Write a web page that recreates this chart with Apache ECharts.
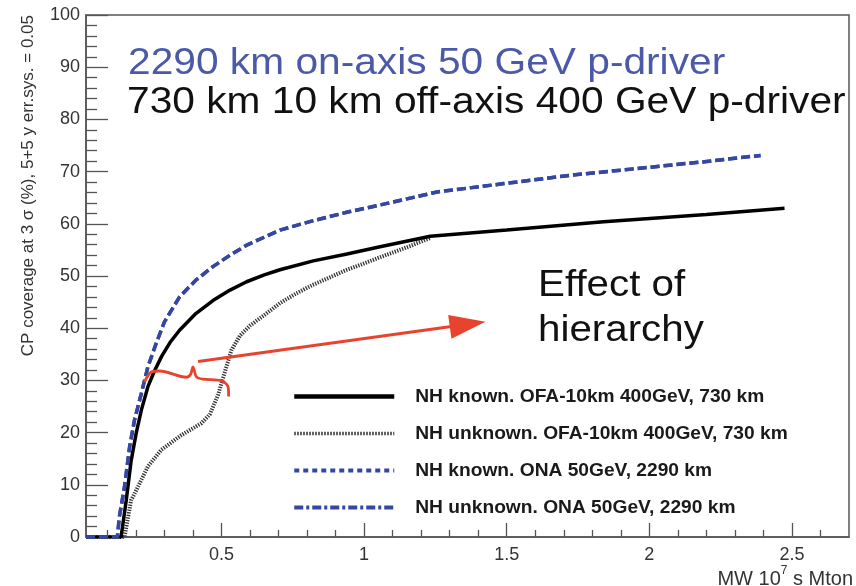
<!DOCTYPE html>
<html>
<head>
<meta charset="utf-8">
<script src="https://cdn.jsdelivr.net/npm/echarts@6/dist/echarts.min.js"></script>
<style>
html,body{margin:0;padding:0;background:#fff;}
#chart{width:856px;height:586px;}
</style>
</head>
<body>
<div id="chart"></div>
<script>
// ---- data (x: MW 10^7 s Mton, y: CP coverage %) ----
const seriesNames = [
  'NH known. OFA-10km 400GeV, 730 km',
  'NH unknown. OFA-10km 400GeV, 730 km',
  'NH known. ONA 50GeV, 2290 km',
  'NH unknown. ONA 50GeV, 2290 km'
];
const nhKnownOFA = [[0.025,0],[0.148,0],[0.166,7],[0.183,14.5],[0.201,19.9],[0.219,24.3],[0.242,28.8],[0.265,31.8],[0.29,34.6],[0.32,37.3],[0.353,39.6],[0.41,42.8],[0.47,45.3],[0.53,47.3],[0.588,48.9],[0.65,50.2],[0.705,51.2],[0.822,52.9],[0.94,54.2],[1.056,55.6],[1.232,57.6],[1.5,58.8],[1.84,60.4],[2.2,61.8],[2.474,63.0]];
const nhUnknownOFA = [[0.025,0],[0.16,0],[0.183,7],[0.207,9.6],[0.242,13.5],[0.289,16.7],[0.359,19.5],[0.43,21.8],[0.459,23.5],[0.488,27.2],[0.511,31.5],[0.535,35.8],[0.565,38.6],[0.6,40.5],[0.65,42.5],[0.705,44.8],[0.76,46.6],[0.82,48.3],[0.87,49.5],[0.94,51.2],[0.99,52.2],[1.056,53.6],[1.15,55.5],[1.232,57.3]];
const nhKnownONA = [[0.025,0],[0.135,0],[0.142,3.9],[0.16,9.6],[0.178,17.3],[0.195,22.4],[0.219,27.5],[0.242,32.6],[0.271,37.1],[0.30,41.2],[0.353,46],[0.41,49.2],[0.47,51.8],[0.53,54.0],[0.588,55.9],[0.705,58.8],[0.822,60.6],[0.939,62.2],[1.056,63.6],[1.256,66.1],[1.49,67.7],[1.724,69.3],[1.959,70.6],[2.193,71.9],[2.39,73.1]];
const nhUnknownONA = [[0.025,0],[0.135,0],[0.142,3.9],[0.16,9.6],[0.178,17.3],[0.195,22.4],[0.219,27.5],[0.242,32.6],[0.271,37.1],[0.30,41.2],[0.353,46],[0.41,49.2],[0.47,51.8],[0.53,54.0],[0.588,55.9],[0.705,58.8],[0.822,60.6],[0.939,62.2],[1.056,63.6],[1.256,66.1],[1.49,67.7],[1.724,69.3],[1.959,70.6],[2.193,71.9],[2.39,73.1]];
// annotation (data coordinates)
const bracePath = [[0.230,29.7],[0.254,31.6],[0.283,31.8],[0.377,30.6],[0.392,31.2],[0.400,32.6],[0.412,30.7],[0.434,30.25],[0.500,29.9],[0.523,28.8],[0.525,26.9]];
const arrowFrom = [0.418,33.6];
const arrowTo = [1.363,40.74];
// axis ticks
const xMajorTicks = [0.5,1,1.5,2,2.5];
const xMinorTicks = [0.1,0.2,0.3,0.4,0.6,0.7,0.8,0.9,1.1,1.2,1.3,1.4,1.6,1.7,1.8,1.9,2.1,2.2,2.3,2.4,2.6];
const titleLine1 = '2290 km on-axis 50 GeV p-driver';
const titleLine2 = '730 km 10 km off-axis 400 GeV p-driver';
const yTitle = 'CP coverage at 3 \u03c3 (%), 5+5 y err.sys. = 0.05';
const effectText = ['Effect of', 'hierarchy'];

const FONT = '"Liberation Sans", Arial, Helvetica, sans-serif';
const BLUE = '#3547a0';
const RED = '#e8432f';
const AX = '#555';

const chart = echarts.init(document.getElementById('chart'), null, {renderer:'canvas'});
const xBase = {
  type:'value', min:0.025, max:2.7, position:'bottom',
  axisLine:{show:false}, splitLine:{show:false}
};
const hideSym = {opacity:0, borderWidth:0};
const option = {
  animation:false,
  grid:{left:86, right:7, top:15, bottom:49, show:true, borderColor:AX, borderWidth:1.5, backgroundColor:'transparent'},
  xAxis:[
    Object.assign({}, xBase, {
      axisLine:{show:true, lineStyle:{color:AX, width:1.5}},
      axisTick:{show:true, inside:true, length:14, customValues:xMajorTicks, lineStyle:{color:AX, width:1.3}},
      axisLabel:{show:true, customValues:xMajorTicks, margin:9, fontSize:18, color:'#333', fontFamily:FONT}
    }),
    Object.assign({}, xBase, {
      axisTick:{show:true, inside:true, length:7, customValues:xMinorTicks, lineStyle:{color:AX, width:1.3}},
      axisLabel:{show:false}
    })
  ],
  yAxis:{
    type:'value', min:0, max:100, interval:10,
    axisLine:{show:true, lineStyle:{color:AX, width:1.5}},
    axisTick:{show:true, inside:true, length:22, lineStyle:{color:AX, width:1.3}},
    minorTick:{show:true, splitNumber:5, length:11, lineStyle:{color:AX, width:1.3}},
    axisLabel:{margin:6, fontSize:18, color:'#333', fontFamily:FONT},
    splitLine:{show:false}, minorSplitLine:{show:false}
  },
  legend:{
    orient:'vertical', left:292, top:386.5, padding:0, itemWidth:100, itemHeight:20, itemGap:17,
    textStyle:{fontSize:19.2, fontWeight:'bold', color:'#1a1a1a', fontFamily:FONT, padding:[0,0,0,16], lineHeight:20},
    data:[
      {name:seriesNames[0], itemStyle:hideSym, lineStyle:{color:'#000', width:4.5, type:'solid'}},
      {name:seriesNames[1], itemStyle:hideSym, lineStyle:{color:'#333', width:3.5, type:[1.5,1.5]}},
      {name:seriesNames[2], itemStyle:hideSym, lineStyle:{color:BLUE, width:4, type:[5,4]}},
      {name:seriesNames[3], itemStyle:hideSym, lineStyle:{color:BLUE, width:4, type:[9,3,3,3]}}
    ]
  },
  series:[
    {name:seriesNames[1], type:'line', data:nhUnknownOFA, showSymbol:false, symbol:'none',
     lineStyle:{color:'#333', width:4, type:[1.3,1.3]}, itemStyle:{color:'#333'}},
    {name:seriesNames[0], type:'line', data:nhKnownOFA, showSymbol:false, symbol:'none',
     lineStyle:{color:'#000', width:3.5}, itemStyle:{color:'#000'}},
    {name:seriesNames[3], type:'line', data:nhUnknownONA, showSymbol:false, symbol:'none',
     lineStyle:{color:BLUE, width:3.5, type:[9,4]}, itemStyle:{color:BLUE}},
    {name:seriesNames[2], type:'line', data:nhKnownONA, showSymbol:false, symbol:'none',
     lineStyle:{color:BLUE, width:3.5, type:[9,4]}, itemStyle:{color:BLUE}},
    {name:'brace', type:'line', data:bracePath, showSymbol:false, symbol:'none', silent:true, smooth:0.3,
     lineStyle:{color:RED, width:2.8}, itemStyle:{color:RED}, z:5,
     markLine:{silent:true, symbol:['none','triangle'], symbolSize:[24,36], label:{show:false},
       lineStyle:{color:RED, width:3, type:'solid'},
       data:[[{coord:arrowFrom},{coord:arrowTo}]]}}
  ],
  graphic:[
    {type:'text', x:128, y:64, scaleX:1.1, style:{text:titleLine1, font:'37px '+FONT, fill:'#4a5aa8', textAlign:'left', textVerticalAlign:'middle'}},
    {type:'text', x:127, y:102.5, scaleX:1.1, style:{text:titleLine2, font:'37px '+FONT, fill:'#111', textAlign:'left', textVerticalAlign:'middle'}},
    {type:'text', x:538, y:286, scaleX:1.09, style:{text:effectText[0], font:'37px '+FONT, fill:'#111', textAlign:'left', textVerticalAlign:'middle'}},
    {type:'text', x:538, y:331, scaleX:1.09, style:{text:effectText[1], font:'37px '+FONT, fill:'#111', textAlign:'left', textVerticalAlign:'middle'}},
    {type:'text', x:28, y:15, rotation:Math.PI/2, style:{text:yTitle, font:'17px '+FONT, fill:'#333', textAlign:'right', textVerticalAlign:'middle'}},
    {type:'text', x:853, y:577, style:{
      text:'{a|MW 10}{s|7}{a| s Mton}', textAlign:'right', textVerticalAlign:'middle',
      rich:{a:{fontSize:20, fontFamily:FONT, fill:'#333', color:'#333', lineHeight:24, verticalAlign:'bottom'},
            s:{fontSize:12, fontFamily:FONT, fill:'#333', color:'#333', lineHeight:24, verticalAlign:'top'}}}}
  ]
};
chart.setOption(option);
</script>
</body>
</html>
